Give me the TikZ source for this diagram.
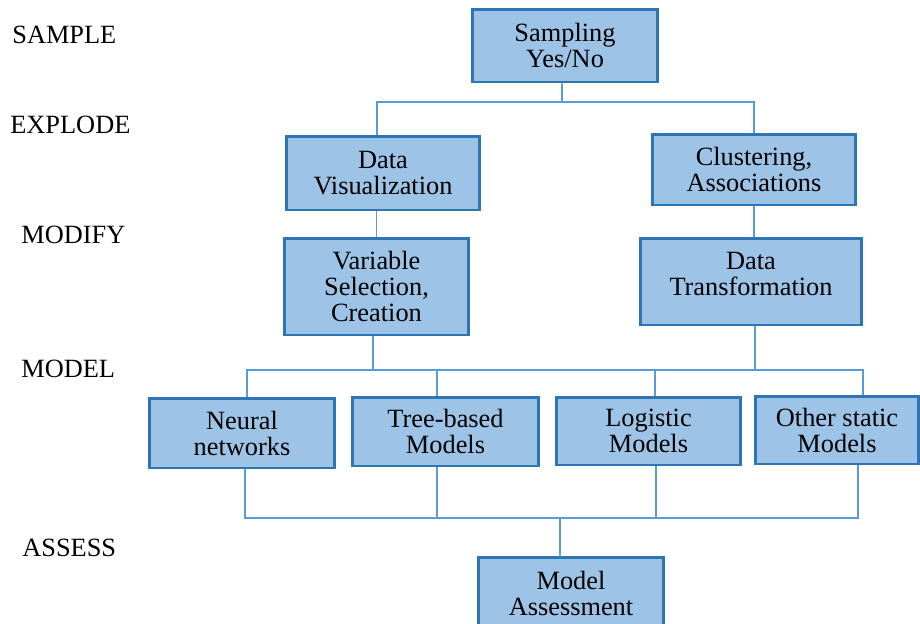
\documentclass[tikz,border=0pt]{standalone}
\usepackage{fontspec}
\setmainfont{Liberation Serif}
\usepackage{tikz}
\definecolor{boxfill}{HTML}{9DC3E6}
\definecolor{boxline}{HTML}{2E75B6}
\definecolor{linkblue}{HTML}{5B9BD5}
\usetikzlibrary{positioning,calc}

\begin{document}
\begin{tikzpicture}[x=0.02cm, y=-0.02cm,
    font=\fontsize{15}{14.8}\selectfont,
    box/.style={draw=boxline, line width=1.7pt, fill=boxfill, align=center, inner sep=0pt},
    link/.style={draw=linkblue, line width=1.1pt},
    stage/.style={anchor=base west, inner sep=0pt}]
    \useasboundingbox (0,0) rectangle (920,623);
    % stage names
    \node (lsamp) [stage] at (12,43) {SAMPLE};
    \node (lexpl) [stage] at (10,133) {EXPLODE};
    \node (lmodi) [stage] at (21,243) {MODIFY};
    \node (lmode) [stage] at (21,377) {MODEL};
    \node (lasse) [stage] at (22,556) {ASSESS};
    % boxes
    \node (samp) [box, minimum width=3.72cm, minimum height=1.46cm] at (565,45.5) {Sampling\\Yes/No};
    \node (dvis) [box, minimum width=3.88cm, minimum height=1.48cm] at (383,173) {Data\\Visualization};
    \node (clus) [box, minimum width=4.08cm, minimum height=1.42cm] at (754,169.5) {Clustering,\\Associations};
    \node (vsel) [box, minimum width=3.70cm, minimum height=1.94cm] at (376.5,286.5) {Variable\\Selection,\\Creation};
    \node (dtra) [box, minimum width=4.44cm, minimum height=1.74cm] at (751,281.5) {Data\\Transformation\\[-0.2cm]};
    \node (neur) [box, minimum width=3.72cm, minimum height=1.40cm] at (242,433) {Neural\\networks};
    \node (tree) [box, minimum width=3.74cm, minimum height=1.38cm] at (445.5,431.5) {Tree-based\\Models};
    \node (logi) [box, minimum width=3.70cm, minimum height=1.36cm] at (648.5,431) {Logistic\\Models};
    \node (othr) [box, minimum width=3.28cm, minimum height=1.36cm] at (837,430) {Other static\\Models};
    \node (asse) [box, minimum width=3.72cm, minimum height=1.44cm] at (571,593) {Model\\Assessment};
    % buses
    \coordinate (bus1) at (562,102);
    \coordinate (bus2) at (560,370);
    \coordinate (bus3) at (560,518);
    \draw[link] ([xshift=-0.06cm]samp.south) -- (bus1);
    \draw[link] ([xshift=-0.12cm]dvis.north) |- (bus1) -| (clus.north);
    \draw[link] (vsel.north) -- (vsel.north |- dvis.south);
    \draw[link] (clus.south) -- (clus.south |- dtra.north);
    \draw[link] ([xshift=-0.07cm]vsel.south) -- ([xshift=-0.07cm]vsel.south |- bus2);
    \draw[link] ([xshift=0.08cm]dtra.south) -- ([xshift=0.08cm]dtra.south |- bus2);
    \draw[link] ([xshift=0.1cm]neur.north) |- (bus2) -| ([xshift=0.52cm]othr.north);
    \draw[link] ([xshift=-0.17cm]tree.north) -- ([xshift=-0.17cm]tree.north |- bus2);
    \draw[link] ([xshift=0.13cm]logi.north) -- ([xshift=0.13cm]logi.north |- bus2);
    \draw[link] ([xshift=0.06cm]neur.south) |- (bus3) -| ([xshift=0.42cm]othr.south);
    \draw[link] ([xshift=-0.17cm]tree.south) -- ([xshift=-0.17cm]tree.south |- bus3);
    \draw[link] ([xshift=0.15cm]logi.south) -- ([xshift=0.15cm]logi.south |- bus3);
    \draw[link] ([xshift=-0.22cm]asse.north) -- (bus3);
\end{tikzpicture}
\end{document}
